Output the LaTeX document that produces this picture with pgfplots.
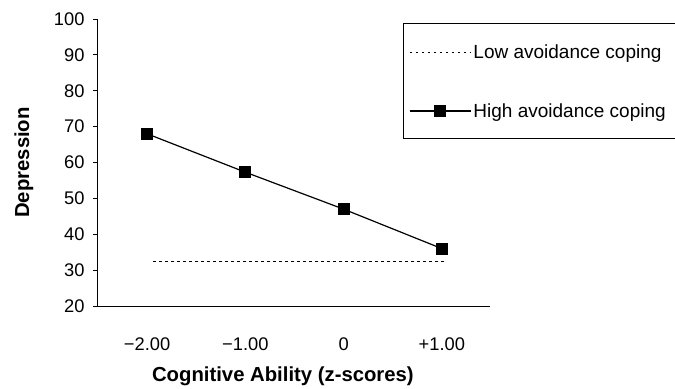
\documentclass[border=0pt]{standalone}
\usepackage{fontspec}
\setmainfont{Liberation Sans}
\usepackage{pgfplots}
\pgfplotsset{compat=1.18}
\begin{document}
\begin{tikzpicture}
\begin{axis}[
  scale only axis,
  width=393bp, height=287bp,
  xmin=-2.51, xmax=1.49,
  ymin=20, ymax=100,
  clip=false,
  axis x line=bottom, axis y line=left,
  axis line style={-, line width=0.8bp, black},
  xtick={-2,-1,0,1},
  xticklabels={−2.00,−1.00,0,+1.00},
  xtick style={draw=none},
  extra x ticks={-0.5,0.5,1.49},
  extra x tick labels={},
  extra x tick style={tick align=inside, major tick length=5bp, tick style={draw=black, line width=0.8bp}},
  ytick={20,30,...,100},
  tick align=outside,
  major tick length=4bp,
  ytick style={line width=0.8bp, black},
  /pgf/number format/assume math mode=true,
  ticklabel style={font=\fontsize{18.3bp}{22bp}\selectfont},
  xticklabel style={anchor=center, yshift=-34bp},
  yticklabel style={anchor=east, xshift=-5bp},
  xlabel={Cognitive Ability (z-scores)},
  ylabel={Depression},
  label style={font=\fontsize{20.3bp}{24bp}\selectfont\bfseries},
  xlabel style={at={(axis description cs:0.473,-0.244)}, anchor=center},
  ylabel style={at={(axis description cs:-0.186,0.5)}, anchor=center},
  legend style={at={(axis description cs:0.7786,0.986)}, anchor=north west,
    draw=none, fill=none, inner xsep=6bp, inner ysep=20bp, row sep=39bp,
    font=\fontsize{19bp}{22bp}\selectfont, cells={anchor=west}},
  legend cell align=left,
  legend image code/.code={\draw[mark repeat=2,mark phase=2,#1] plot coordinates {(0bp,0bp) (30.5bp,0bp) (61bp,0bp)};},
]
\coordinate (o) at (rel axis cs:0,0);
\draw[line width=0.8bp, black] (axis description cs:1.6,0.986) -- (axis description cs:0.7786,0.986)
  -- (axis description cs:0.7786,0.5854) -- (axis description cs:1.6,0.5854);
\addplot[black, line width=1.3bp, dash pattern=on 2.5bp off 3.5bp] coordinates {
  (-1.94,32.5) (-1,32.5) (0,32.5) (1.02,32.5)
};
\addlegendentry{Low avoidance coping}
\addplot[black, line width=1.2bp, mark=square*, mark size=5.5bp, mark options={solid}] coordinates {
  (-2,68) (-1,57.3) (0,47) (1,36)
};
\addlegendentry{High avoidance coping}
\end{axis}
\pgfresetboundingbox
\path[use as bounding box] ([shift={(-97bp,-83bp)}]o) rectangle ([shift={(578bp,306bp)}]o);
\end{tikzpicture}
\end{document}
